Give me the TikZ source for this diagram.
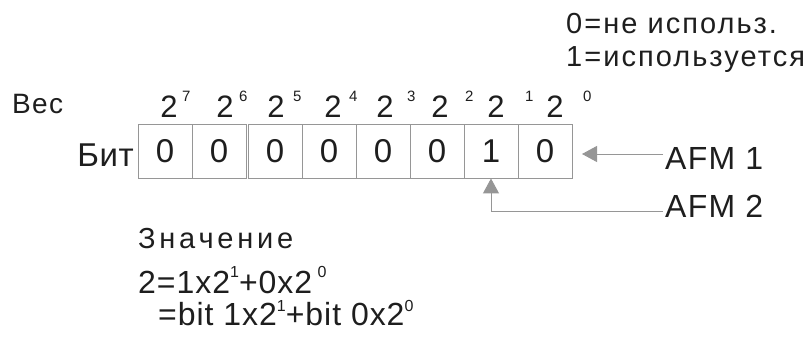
\documentclass[tikz,border=0pt]{standalone}
\usepackage{fontspec}
\setmainfont{Liberation Sans}[LetterSpace=10]
\usetikzlibrary{arrows.meta}
\definecolor{ink}{RGB}{30,30,30}
\definecolor{boxline}{RGB}{150,150,150}
\definecolor{arrowgray}{RGB}{150,150,150}
\newcommand{\fs}[1]{\fontsize{#1}{#1}\selectfont}
\newcommand{\supx}[2][16pt]{\raisebox{#1}{\fs{16}#2}}
\tikzset{
  bitbox/.style={draw=boxline, line width=0.9pt, minimum width=54pt, minimum height=54pt,
    inner sep=0pt, text=ink, font=\fs{33}},
  wtwo/.style={anchor=base, inner sep=0pt, text=ink, font=\fs{31}},
  wsup/.style={anchor=base west, inner sep=0pt, text=ink, font=\fs{15}},
  lbl/.style={anchor=base west, inner sep=0pt, text=ink},
  conn/.style={draw=arrowgray, line width=1pt, -{Triangle[length=15pt,width=16pt]}},
}
\begin{document}
\begin{tikzpicture}[x=1pt,y=-1pt]
\useasboundingbox (0,0) rectangle (807,340);
% bit boxes
\node[bitbox] (b7) at (165,151) {0};
\node[bitbox] (b6) at (219,151) {0};
\node[bitbox] (b5) at (275,151) {0};
\node[bitbox] (b4) at (329,151) {0};
\node[bitbox] (b3) at (383,151) {0};
\node[bitbox] (b2) at (437,151) {0};
\node[bitbox] (b1) at (491,151) {1};
\node[bitbox] (b0) at (545,151) {0};
% weights
\node[wtwo] (w7) at (169,117) {2};
\node[wsup] (s7) at (182,101) {7};
\node[wtwo] (w6) at (225,117) {2};
\node[wsup] (s6) at (239,101) {6};
\node[wtwo] (w5) at (276,117) {2};
\node[wsup] (s5) at (293,101) {5};
\node[wtwo] (w4) at (333,117) {2};
\node[wsup] (s4) at (349,101) {4};
\node[wtwo] (w3) at (385,117) {2};
\node[wsup] (s3) at (407,101) {3};
\node[wtwo] (w2) at (440,117) {2};
\node[wsup] (s2) at (465,101) {2};
\node[wtwo] (w1) at (496,117) {2};
\node[wsup] (s1) at (525,101) {1};
\node[wtwo] (w0) at (555,117) {2};
\node[wsup] (s0) at (583,101) {0};
% labels
\node[lbl, font=\fs{28}\addfontfeatures{LetterSpace=5}] (ves) at (12,113) {Вес};
\node[anchor=base east, inner sep=0pt, text=ink, font=\fs{33}\addfontfeatures{LetterSpace=2}] (bit) at (134,166) {Бит};
\node[lbl, font=\fs{29}\addfontfeatures{LetterSpace=7}] (leg0) at (566,33) {0=не использ.};
\node[lbl, font=\fs{29}\addfontfeatures{LetterSpace=7}] (leg1) at (566,66) {1=используется};
\node[lbl, font=\fs{32}\addfontfeatures{LetterSpace=4}] (afm1) at (665,169) {AFM 1};
\node[lbl, font=\fs{32}\addfontfeatures{LetterSpace=4}] (afm2) at (665,217) {AFM 2};
\coordinate (a1) at (663,154);
\coordinate (a2) at (663,211);
\coordinate (bend) at (491,211);
% arrows
\draw[conn] (a1) -- (582,154);
\draw[conn] (a2) -- (bend) -- (b1.south);
% formula
\node[lbl, font=\fs{29}\addfontfeatures{LetterSpace=13}] (val) at (138,248) {Значение};
\node[lbl, font=\fs{32}\addfontfeatures{LetterSpace=3}] (f1) at (138,293) {2=1x2\supx{1}+0x2\,\supx{0}};
\node[lbl, font=\fs{32}\addfontfeatures{LetterSpace=3}] (f2) at (158,325) {=bit 1x2\supx[14pt]{1}+bit 0x2\supx[14pt]{0}};
\end{tikzpicture}
\end{document}
